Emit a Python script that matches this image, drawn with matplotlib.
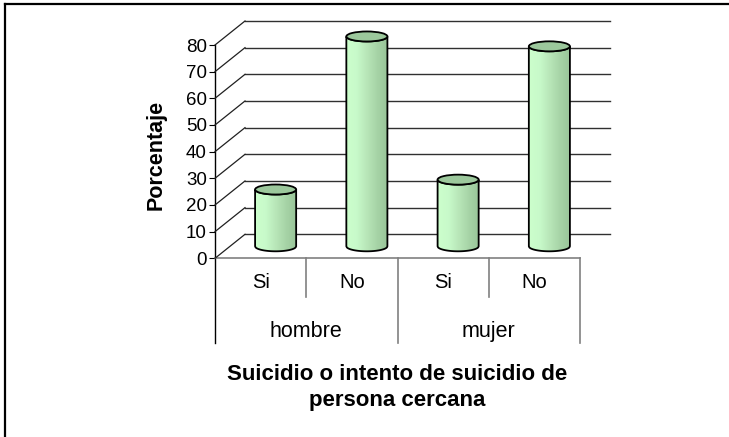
import numpy as np
import matplotlib
matplotlib.use("Agg")
import matplotlib.pyplot as plt
import matplotlib.transforms as mtransforms
from matplotlib.patches import Ellipse, PathPatch
from matplotlib.path import Path
from matplotlib.lines import Line2D
from matplotlib.colors import LinearSegmentedColormap

# ---- data ----
groups = ["hombre", "mujer"]
answers = ["Si", "No", "Si", "No"]
values = [21.3, 78.7, 25.0, 75.0]
yticks = [0, 10, 20, 30, 40, 50, 60, 70, 80]
ylabel = "Porcentaje"
xtitle = "Suicidio o intento de suicidio de\npersona cercana"

plt.rcParams["font.family"] = ["Liberation Sans", "DejaVu Sans"]

W, H, DPI = 729, 437, 100
fig = plt.figure(figsize=(W / DPI, H / DPI), dpi=DPI)
fig.patch.set_facecolor("white")

ax_h = 213.3
ax = fig.add_axes([215 / W, (H - 258.3) / H, 365 / W, ax_h / H])
n = len(values)
ax.set_xlim(0, n)
ax.set_ylim(0, 80)
ax.patch.set_visible(False)
for s in ax.spines.values():
    s.set_visible(False)
ax.set_xticks([])
ax.set_yticks(yticks)
ax.set_yticklabels([str(t) for t in yticks], fontsize=13.5)
ax.tick_params(axis="y", direction="out", length=4.3, width=0.8, pad=1.5, color="black")


def px(dx, dy):
    return mtransforms.ScaledTranslation(dx / DPI, dy / DPI, fig.dpi_scale_trans)


DX, DY = 30, 24
back = ax.transData + px(DX, DY)
mid = ax.transData + px(DX / 2, DY / 2)

# back wall gridlines and side-wall diagonals
for t in yticks:
    ax.plot([0, n], [t, t], transform=back, color="#303030", lw=1.0, clip_on=False, zorder=1)
    p = ax.transData.transform((0, t))
    fig.add_artist(Line2D([p[0], p[0] + DX], [p[1], p[1] + DY],
                          transform=mtransforms.IdentityTransform(),
                          color="#202020", lw=0.9))

# front value axis, extends down through category table
ax.add_line(Line2D([0, 0], [-85 / ax_h, 1], transform=ax.transAxes,
                   color="black", lw=1.0, clip_on=False, zorder=2))
xax = ax.get_xaxis_transform()
# category table
ax.add_line(Line2D([0, n], [0, 0], transform=xax, color="#808080", lw=1.2, clip_on=False, zorder=2))
for xpos in [1, 3]:
    ax.add_line(Line2D([xpos, xpos], [0, -38.5 / ax_h], transform=xax,
                       color="#808080", lw=1.2, clip_on=False, zorder=2))
for xpos in [2, 4]:
    ax.add_line(Line2D([xpos, xpos], [0, -85 / ax_h], transform=xax,
                       color="#808080", lw=1.2, clip_on=False, zorder=2))

# cylinders
w = 0.45
eh = 10 / (ax_h / 80)
cmap = LinearSegmentedColormap.from_list(
    "cyl", ["#CCFFCC", "#C8FACA", "#B8E6B8", "#A6D3A6", "#98C498"])
grad = np.linspace(0, 1, 256).reshape(1, -1)
for i, v in enumerate(values):
    xc = i + 0.5
    xl, xr = xc - w / 2, xc + w / 2
    tt = np.linspace(-1, 1, 80)
    xs = xc + tt * w / 2
    low = -eh / 2 * np.sqrt(np.clip(1 - tt ** 2, 0, None))
    verts = [(xl, v)] + list(zip(xs, low)) + [(xr, v)] + list(zip(xs[::-1], v + low[::-1])) + [(xl, v)]
    codes = [Path.MOVETO] + [Path.LINETO] * (len(verts) - 2) + [Path.CLOSEPOLY]
    body = PathPatch(Path(verts, codes), transform=mid, facecolor="none",
                     edgecolor="black", lw=1.3, zorder=4, clip_on=False)
    ax.add_patch(body)
    im = ax.imshow(grad, extent=[xl, xr, -eh, v + eh], transform=mid, aspect="auto",
                   cmap=cmap, zorder=3, interpolation="bilinear")
    im.set_clip_box(fig.bbox)
    im.set_clip_path(body)
    top = Ellipse((xc, v), w, eh, transform=mid, facecolor="#9CC89C",
                  edgecolor="black", lw=1.3, zorder=5, clip_on=False)
    ax.add_patch(top)

ax.set_xlim(0, n)
ax.set_ylim(0, 80)

# category labels
for i, a in enumerate(answers):
    ax.text(i + 0.5, 0, a, transform=xax + px(0, -24), ha="center", va="center", fontsize=14.5)
for g, gname in enumerate(groups):
    ax.text(2 * g + 1, 0, gname, transform=xax + px(0, -73), ha="center", va="center", fontsize=15.5)

ax.text(n / 2, 0, xtitle, transform=xax + px(0, -129), ha="center", va="center",
        fontsize=16, fontweight="bold", linespacing=1.3, multialignment="center")

fig.text(156 / W, 1 - 155 / H, ylabel, rotation=90, ha="center", va="center",
         fontsize=15.5, fontweight="bold")

# outer frame (only left and top visible)
fig.add_artist(Line2D([5 / W, 5 / W], [0, 1 - 4.3 / H], color="black", lw=1.6))
fig.add_artist(Line2D([5 / W, 1], [1 - 4.3 / H, 1 - 4.3 / H], color="black", lw=1.6))

fig.savefig("out.png", dpi=DPI)
